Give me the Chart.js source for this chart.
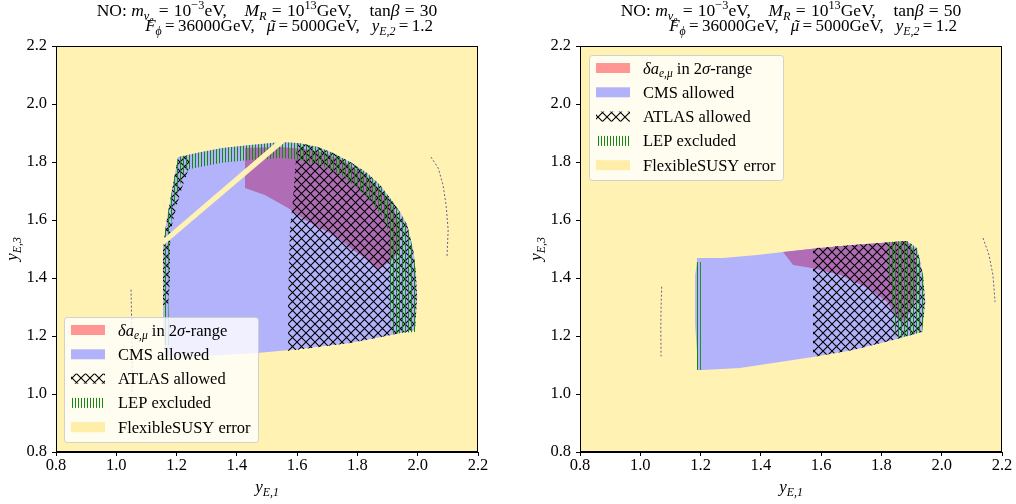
<!DOCTYPE html>
<html>
<head>
<meta charset="utf-8">
<script src="https://cdn.jsdelivr.net/npm/chart.js@4.4.0/dist/chart.umd.min.js"></script>
<style>
  html, body { margin: 0; padding: 0; background: #fff; }
  #wrap { display: flex; width: 1016px; height: 504px; }
  canvas { display: block; }
</style>
</head>
<body>
<div id="wrap">
  <canvas id="left" width="508" height="504"></canvas>
  <canvas id="right" width="508" height="504"></canvas>
</div>
<script>
// axis ticks (same on both panels)
const xTicks = [0.8, 1.0, 1.2, 1.4, 1.6, 1.8, 2.0, 2.2];
const yTicks = [0.8, 1.0, 1.2, 1.4, 1.6, 1.8, 2.0, 2.2];
const tanBeta = [30, 50];

// whole scanned plane -> FlexibleSUSY error where nothing else survives
const plane = [[0.8, 0.8], [2.2, 0.8], [2.2, 2.2], [0.8, 2.2]];

// ---- left panel, tan(beta) = 30 ----
const cmsL = [[1.205, 1.817], [1.278, 1.834], [1.351, 1.848], [1.444, 1.859], [1.550, 1.869], [1.610, 1.865],
  [1.669, 1.852], [1.719, 1.831], [1.776, 1.800], [1.832, 1.762], [1.875, 1.721], [1.908, 1.676], [1.941, 1.628],
  [1.965, 1.583], [1.985, 1.497], [1.994, 1.417], [1.998, 1.334], [1.991, 1.221], [1.908, 1.203], [1.776, 1.176],
  [1.576, 1.152], [1.467, 1.141], [1.278, 1.131], [1.162, 1.128], [1.155, 1.221], [1.155, 1.359], [1.155, 1.507],
  [1.165, 1.583], [1.172, 1.628], [1.188, 1.721]];
const dalL = [[1.427, 1.848], [1.543, 1.852], [1.626, 1.845], [1.693, 1.831], [1.759, 1.800], [1.825, 1.755],
  [1.875, 1.703], [1.915, 1.652], [1.941, 1.583], [1.941, 1.497], [1.915, 1.462], [1.868, 1.428], [1.825, 1.469],
  [1.776, 1.503], [1.732, 1.541], [1.626, 1.600], [1.570, 1.641], [1.493, 1.686], [1.427, 1.710]];
const atlasL = [[1.600, 1.865], [1.610, 1.865], [1.669, 1.852], [1.719, 1.831], [1.776, 1.800], [1.832, 1.762],
  [1.875, 1.721], [1.908, 1.676], [1.941, 1.628], [1.965, 1.583], [1.985, 1.497], [1.994, 1.417], [1.998, 1.334],
  [1.991, 1.221], [1.908, 1.203], [1.776, 1.176], [1.570, 1.148], [1.570, 1.324], [1.576, 1.566], [1.586, 1.669]];
const atlasEdgeL = [[1.205, 1.817], [1.238, 1.821], [1.245, 1.790], [1.221, 1.721], [1.201, 1.652], [1.185, 1.583],
  [1.178, 1.514], [1.178, 1.393], [1.172, 1.307], [1.155, 1.307], [1.155, 1.507], [1.165, 1.583], [1.172, 1.628],
  [1.188, 1.721]];
const lepL = [[1.162, 1.169], [1.155, 1.359], [1.155, 1.507], [1.165, 1.583], [1.172, 1.628], [1.188, 1.721],
  [1.205, 1.817], [1.278, 1.834], [1.351, 1.848], [1.444, 1.859], [1.550, 1.869], [1.610, 1.865], [1.669, 1.852],
  [1.719, 1.831], [1.776, 1.800], [1.832, 1.762], [1.875, 1.721], [1.908, 1.676], [1.941, 1.628], [1.965, 1.583],
  [1.985, 1.497], [1.994, 1.417], [1.998, 1.334], [1.991, 1.214], [1.912, 1.207], [1.908, 1.324], [1.908, 1.462],
  [1.908, 1.548], [1.885, 1.607], [1.849, 1.659], [1.799, 1.710], [1.742, 1.755], [1.676, 1.790], [1.610, 1.807],
  [1.550, 1.814], [1.444, 1.807], [1.351, 1.797], [1.278, 1.783], [1.228, 1.772], [1.205, 1.703], [1.185, 1.617],
  [1.175, 1.514], [1.172, 1.359], [1.175, 1.169]];
const stripeL = [[1.148, 1.528], [1.547, 1.883], [1.560, 1.869], [1.158, 1.514]];
const dashL = [[1.049, 1.360], [1.050, 1.300], [1.052, 1.200], [1.053, 1.100], [1.052, 1.000]];
const arcL = [[2.044, 1.817], [2.068, 1.779], [2.084, 1.721], [2.094, 1.652], [2.101, 1.566], [2.097, 1.469]];

// ---- right panel, tan(beta) = 50 ----
const cmsR = [[1.188, 1.469], [1.274, 1.469], [1.387, 1.479], [1.474, 1.490], [1.586, 1.503], [1.706, 1.514],
  [1.795, 1.521], [1.885, 1.528], [1.918, 1.503], [1.938, 1.410], [1.945, 1.317], [1.935, 1.214], [1.839, 1.186],
  [1.706, 1.152], [1.573, 1.128], [1.440, 1.107], [1.331, 1.090], [1.208, 1.083], [1.192, 1.083], [1.182, 1.238],
  [1.182, 1.410], [1.188, 1.455]];
const dalR = [[1.474, 1.490], [1.586, 1.503], [1.706, 1.514], [1.795, 1.521], [1.882, 1.528], [1.908, 1.497],
  [1.921, 1.410], [1.912, 1.324], [1.878, 1.248], [1.845, 1.272], [1.819, 1.317], [1.752, 1.366], [1.663, 1.410],
  [1.573, 1.434], [1.507, 1.445]];
const atlasR = [[1.573, 1.503], [1.706, 1.514], [1.795, 1.521], [1.885, 1.528], [1.918, 1.503], [1.938, 1.410],
  [1.945, 1.317], [1.935, 1.214], [1.839, 1.186], [1.706, 1.152], [1.573, 1.128]];
const lepR = [[1.819, 1.524], [1.885, 1.528], [1.918, 1.503], [1.938, 1.410], [1.945, 1.317], [1.935, 1.214],
  [1.849, 1.190], [1.835, 1.324], [1.819, 1.462]];
const lepEdgeR = [[1.182, 1.455], [1.201, 1.455], [1.201, 1.083], [1.185, 1.083]];
const dashR = [[1.071, 1.370], [1.069, 1.300], [1.068, 1.220], [1.069, 1.130]];
const arcR = [[2.137, 1.538], [2.157, 1.479], [2.170, 1.410], [2.177, 1.317]];

const FAM = '"Liberation Serif", "Times New Roman", serif';
const C_SUSY = '#fff2b3', C_CMS = '#b3b3fc', C_DAL = '#b06cb4', C_GREEN = '#118811';

function tile(w, h, paint) {
  const c = document.createElement('canvas');
  c.width = w; c.height = h;
  const g = c.getContext('2d');
  paint(g);
  return g.createPattern(c, 'repeat');
}
const crossHatch = tile(9, 9, g => {
  g.strokeStyle = '#000'; g.lineWidth = 1.1;
  g.beginPath();
  g.moveTo(-1, -1); g.lineTo(10, 10);
  g.moveTo(-1, 10); g.lineTo(10, -1);
  g.stroke();
});
const vertHatch = tile(3, 1, g => {
  g.fillStyle = C_GREEN;
  g.fillRect(0, 0, 1, 1);
});

const pts = a => a.map(([x, y]) => ({x, y}));
function area(arr, color, order) {
  return {data: pts(arr), backgroundColor: color, borderWidth: 0, pointRadius: 0,
    showLine: true, fill: 'shape', tension: 0, order};
}
function trace(arr) {
  return {data: pts(arr), borderColor: 'rgba(70,70,140,0.85)', borderWidth: 1, borderDash: [2, 2],
    pointRadius: 0, showLine: true, fill: false, tension: 0, order: 1};
}

// rich text: [text, italic, level, accent]
// level 0 normal, 1 sup, -1 sub, -2 subsub, 'q' = quad gap, 's' = thick gap
const LV = {'0': [1, 0], '1': [0.7, -0.42], '-1': [0.7, 0.22], '-2': [0.55, 0.4]};
function drawRich(ctx, segs, x, y, size, align, gaps) {
  const [gq, gs] = gaps || [1, 0.3];
  let w = 0;
  const parts = [];
  for (const [t, it, lv, acc] of segs) {
    if (lv === 'q') { w += size * gq; continue; }
    if (lv === 's') { w += size * gs; continue; }
    const [k, dy] = LV[String(lv)];
    ctx.font = (it ? 'italic ' : '') + (size * k).toFixed(1) + 'px ' + FAM;
    const tw = ctx.measureText(t).width;
    parts.push({t, font: ctx.font, x: w, dy: dy * size, tw, acc});
    w += tw;
  }
  const x0 = align === 'center' ? x - w / 2 : align === 'right' ? x - w : x;
  ctx.textBaseline = 'alphabetic';
  ctx.fillStyle = '#000';
  for (const p of parts) {
    ctx.font = p.font;
    ctx.textAlign = 'left';
    ctx.fillText(p.t, x0 + p.x, y + p.dy);
    if (p.acc) {
      ctx.textAlign = 'center';
      ctx.fillText(p.acc, x0 + p.x + p.tw / 2 + size * 0.08, y + p.dy);
    }
  }
}

const Q = ['', 0, 'q'], S = ['', 0, 's'], EQ = ['=', 0, 0];
const titleLine1 = tb => [['NO: ', 0, 0], ['m', 1, 0], ['\u03bd', 1, -1], ['e', 1, -2], S, EQ, S, ['10', 0, 0],
  ['\u22123', 0, 1], ['eV,', 0, 0], Q, ['M', 1, 0], ['R', 1, -1], S, EQ, S, ['10', 0, 0], ['13', 0, 1], ['GeV,', 0, 0],
  Q, ['tan', 0, 0], ['\u03b2', 1, 0], S, EQ, S, [String(tb), 0, 0]];
const titleLine2 = [['F', 1, 0], ['\u03d5', 1, -1], S, EQ, S, ['36000GeV,', 0, 0], Q, ['\u03bc', 1, 0, '\u02dc'],
  S, EQ, S, ['5000GeV,', 0, 0], Q, ['y', 1, 0], ['E,2', 1, -1], S, EQ, S, ['1.2', 0, 0]];
const xTitle = [['y', 1, 0], ['E,1', 1, -1]];
const yTitle = [['y', 1, 0], ['E,3', 1, -1]];

const legendItems = [
  {key: 'dal', label: [['\u03b4a', 1, 0], ['e,\u03bc', 1, -1], [' in 2', 0, 0], ['\u03c3', 1, 0], ['-range', 0, 0]]},
  {key: 'cms', label: [['CMS allowed', 0, 0]]},
  {key: 'atlas', label: [['ATLAS allowed', 0, 0]]},
  {key: 'lep', label: [['LEP excluded', 0, 0]]},
  {key: 'susy', label: [['FlexibleSUSY error', 0, 0]]}
];
const swatch = {dal: 'rgb(255,150,148)', cms: 'rgb(178,178,250)', atlas: crossHatch, lep: vertHatch, susy: 'rgb(255,238,168)'};

const decor = {
  id: 'decor',
  afterDatasetsDraw(chart, args, opts) {
    const ctx = chart.ctx, a = chart.chartArea;
    ctx.save();
    // frame
    ctx.strokeStyle = '#000';
    ctx.lineWidth = 1;
    ctx.strokeRect(Math.round(a.left) + 0.5, Math.round(a.top) + 0.5,
      Math.round(a.right - a.left) - 1, Math.round(a.bottom - a.top) - 1);
    // legend
    const bw = 194, bh = 125;
    const bx = a.left + (opts.legendTop ? 9 : 8);
    const by = opts.legendTop ? a.top + 9 : a.bottom - 10 - bh;
    ctx.beginPath();
    ctx.roundRect(bx + 0.5, by + 0.5, bw, bh, 3);
    ctx.fillStyle = 'rgba(255,255,255,0.8)';
    ctx.fill();
    ctx.strokeStyle = 'rgba(204,204,204,0.9)';
    ctx.stroke();
    legendItems.forEach((it, i) => {
      const cy = by + 13 + 24.3 * i;
      ctx.fillStyle = swatch[it.key];
      ctx.fillRect(bx + 7, cy - 5, 34, 10);
      drawRich(ctx, it.label, bx + 54, cy + 5.5, 16.5, 'left');
    });
    ctx.restore();
  },
  afterDraw(chart, args, opts) {
    const ctx = chart.ctx, a = chart.chartArea;
    const cx = (a.left + a.right) / 2;
    ctx.save();
    drawRich(ctx, titleLine1(opts.tanBeta), cx, a.top - 30, 17.5, 'center');
    drawRich(ctx, titleLine2, cx + 166, a.top - 15, 17, 'right', [0.7, 0.2]);
    drawRich(ctx, xTitle, cx, a.bottom + 40, 17, 'center');
    ctx.translate(a.left - 39, (a.top + a.bottom) / 2);
    ctx.rotate(-Math.PI / 2);
    drawRich(ctx, yTitle, 0, 0, 17, 'center');
    ctx.restore();
  }
};

function axis(ticks, isX) {
  return {
    type: 'linear', min: 0.8, max: 2.2,
    afterBuildTicks: s => { s.ticks = ticks.map(v => ({value: v})); },
    afterFit: s => { if (isX) s.height = 52; else s.width = 50; },
    grid: {display: true, drawOnChartArea: false, drawTicks: true, tickLength: 4, color: '#000', tickColor: '#000'},
    border: {display: true, color: '#000', width: 1},
    ticks: {color: '#000', font: {family: FAM, size: 16.5}, padding: isX ? 0 : 5,
      callback: v => Number(v).toFixed(1), maxRotation: 0, autoSkip: false}
  };
}

function makeChart(id, datasets, tb, legendTop, padLeft, padRight) {
  return new Chart(document.getElementById(id), {
    type: 'scatter',
    data: {datasets},
    options: {
      responsive: false, animation: false, events: [],
      layout: {padding: {left: padLeft, right: padRight, top: 46, bottom: 0}},
      plugins: {legend: {display: false}, tooltip: {enabled: false}, decor: {tanBeta: tb, legendTop}},
      scales: {x: axis(xTicks, true), y: axis(yTicks, false)}
    },
    plugins: [decor]
  });
}

makeChart('left', [
  area(plane, C_SUSY, 10),
  area(cmsL, C_CMS, 9),
  area(dalL, C_DAL, 8),
  area(atlasL, crossHatch, 7),
  area(atlasEdgeL, crossHatch, 7),
  area(lepL, vertHatch, 6),
  area(stripeL, C_SUSY, 5),
  trace(dashL),
  trace(arcL)
], tanBeta[0], false, 6, 30);

makeChart('right', [
  area(plane, C_SUSY, 10),
  area(cmsR, C_CMS, 9),
  area(dalR, C_DAL, 8),
  area(atlasR, crossHatch, 7),
  area(lepR, vertHatch, 6),
  area(lepEdgeR, vertHatch, 6),
  trace(dashR),
  trace(arcR)
], tanBeta[1], true, 22, 14);
</script>
</body>
</html>
